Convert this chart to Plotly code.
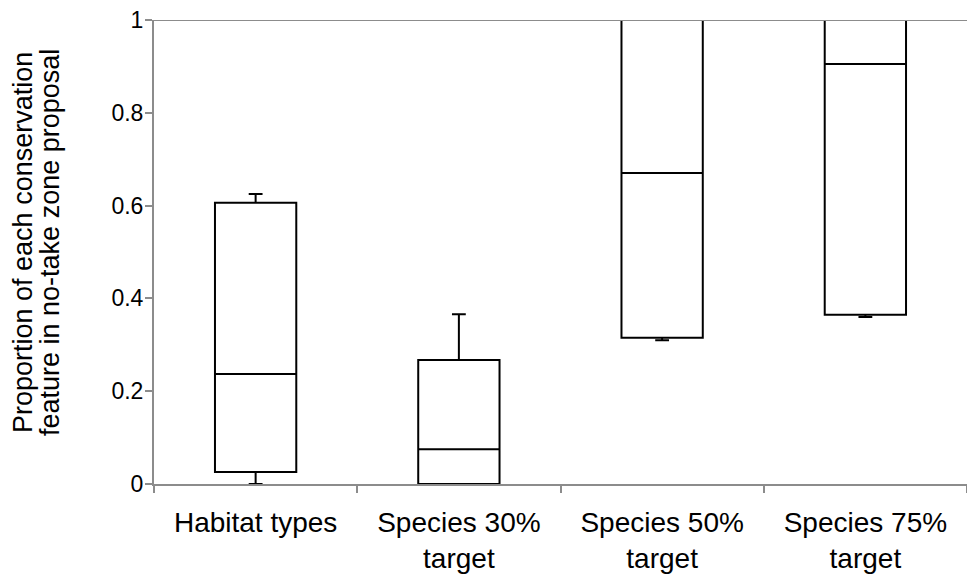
import plotly.graph_objects as go

categories = ["Habitat types", "Species 30%<br>target", "Species 50%<br>target", "Species 75%<br>target"]
q1 = [0.026, 0.0, 0.315, 0.365]
median = [0.237, 0.075, 0.670, 0.905]
q3 = [0.606, 0.267, 1.0, 1.0]
lowerfence = [0.0, 0.0, 0.310, 0.360]
upperfence = [0.625, 0.366, 1.0, 1.0]
y_ticks = [0, 0.2, 0.4, 0.6, 0.8, 1]
y_tick_text = ["0", "0.2", "0.4", "0.6", "0.8", "1"]
y_title_lines = ["Proportion of each conservation", "feature in no-take zone proposal"]

AX = "#8c8c8c"
FONT = "Liberation Sans, Arial, sans-serif"
L, W = 154, 813

fig = go.Figure()
fig.add_trace(go.Box(
    x=categories, q1=q1, median=median, q3=q3,
    lowerfence=lowerfence, upperfence=upperfence,
    width=0.4, whiskerwidth=0.17,
    line=dict(color="black", width=2), fillcolor="white",
    boxpoints=False, showlegend=False, hoverinfo="skip",
))

fig.add_shape(type="line", xref="paper", yref="y", x0=0, x1=1, y0=1, y1=1,
              line=dict(color=AX, width=2), layer="above")

for xpix, line in zip([23, 50], y_title_lines):
    fig.add_annotation(text=line, textangle=-90, xref="paper", yref="paper",
                       x=(xpix - L) / W, y=(484 - 243) / 464, xanchor="center", yanchor="middle",
                       showarrow=False, font=dict(family=FONT, size=27, color="black"))

fig.update_layout(
    width=967, height=579,
    margin=dict(l=L, r=0, t=20, b=95, autoexpand=False),
    paper_bgcolor="white", plot_bgcolor="white",
    font=dict(family=FONT, color="black"),
    xaxis=dict(type="category", range=[-0.5, 3.5], tickson="boundaries",
               ticks="outside", ticklen=7, tickcolor=AX, tickwidth=2,
               showline=True, linecolor=AX, linewidth=2, showgrid=False, automargin=False,
               tickfont=dict(size=28, color="black"), ticklabelstandoff=12),
    yaxis=dict(range=[0, 1], tickvals=y_ticks, ticktext=y_tick_text,
               ticks="outside", ticklen=7, tickcolor=AX, tickwidth=2,
               showline=True, linecolor=AX, linewidth=2, showgrid=False, zeroline=False,
               automargin=False,
               tickfont=dict(size=23, color="black"), ticklabelstandoff=-3),
)

fig.write_html("out.html", config={"displayModeBar": False})
with open("out.html", encoding="utf-8") as f:
    html = f.read()
html = html.replace("<head>", "<head><style>html,body{margin:0;padding:0;}</style>", 1)
with open("out.html", "w", encoding="utf-8") as f:
    f.write(html)
